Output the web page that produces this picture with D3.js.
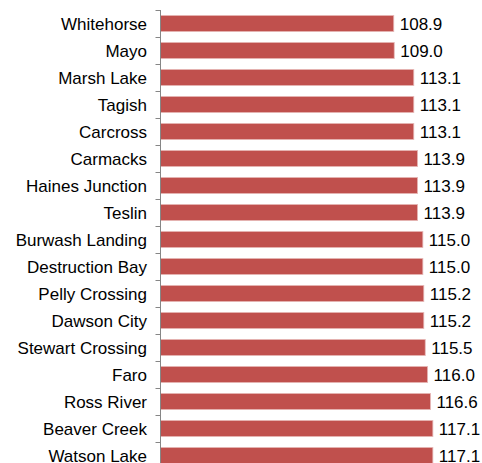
<!DOCTYPE html>
<html><head><meta charset="utf-8">
<script src="https://cdn.jsdelivr.net/npm/d3@7"></script>
<style>body{margin:0;background:#fff;overflow:hidden}</style>
</head><body>
<svg id="c" width="482" height="463"></svg>
<script>
const categories = ["Whitehorse","Mayo","Marsh Lake","Tagish","Carcross","Carmacks","Haines Junction","Teslin","Burwash Landing","Destruction Bay","Pelly Crossing","Dawson City","Stewart Crossing","Faro","Ross River","Beaver Creek","Watson Lake"];
const values = [108.9,109.0,113.1,113.1,113.1,113.9,113.9,113.9,115.0,115.0,115.2,115.2,115.5,116.0,116.6,117.1,117.1];

const svg = d3.select("#c");
const x0 = 160.5;
const x = d3.scaleLinear().domain([60,120]).range([x0, x0 + 60*4.77]);
const y = d3.scaleBand().domain(categories).range([10, 10 + 27*categories.length]).paddingInner(0.4).paddingOuter(0.2);

svg.selectAll("rect.bar").data(values).join("rect")
  .attr("class","bar")
  .attr("x", x(60))
  .attr("y", (d,i)=>y(categories[i]))
  .attr("width", d=>x(d)-x(60))
  .attr("height", y.bandwidth())
  .attr("fill","#C0504D")
  .attr("stroke","#E6B9B8").attr("stroke-width",0.8);

svg.selectAll("text.val").data(values).join("text")
  .attr("class","val")
  .attr("x", d=>x(d)+6)
  .attr("y", (d,i)=>y(categories[i])+y.bandwidth()/2)
  .attr("dy","0.36em")
  .attr("font-family","Liberation Sans, Arial, sans-serif")
  .attr("font-size","17px").attr("fill","#000")
  .text(d=>d.toFixed(1));

// category axis
const ax = svg.append("g");
ax.append("line").attr("x1",x0).attr("x2",x0).attr("y1",10).attr("y2",10+27*categories.length)
  .attr("stroke","#868686").attr("stroke-width",1);
const bounds = d3.range(categories.length+1).map(i=>10+27*i);
ax.selectAll("line.tk").data(bounds).join("line").attr("class","tk")
  .attr("x1",x0-5).attr("x2",x0).attr("y1",d=>d+0.5).attr("y2",d=>d+0.5)
  .attr("stroke","#868686").attr("stroke-width",1);
ax.selectAll("text.cat").data(categories).join("text").attr("class","cat")
  .attr("x",147).attr("y",d=>y(d)+y.bandwidth()/2).attr("dy","0.36em")
  .attr("text-anchor","end")
  .attr("font-family","Liberation Sans, Arial, sans-serif")
  .attr("font-size","17px").attr("fill","#000")
  .text(d=>d);
</script>
</body></html>
